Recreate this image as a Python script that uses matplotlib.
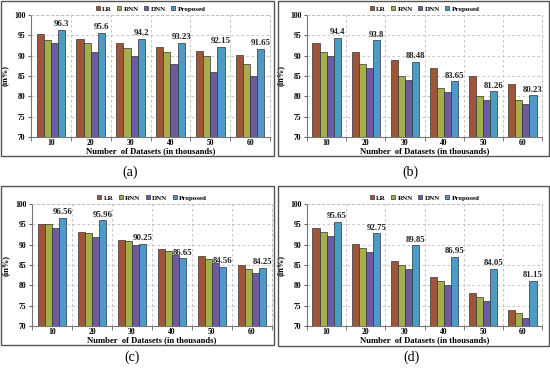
import matplotlib
matplotlib.use("Agg")
import matplotlib.pyplot as plt
from matplotlib.patches import Rectangle
import numpy as np

categories = ["10", "20", "30", "40", "50", "60"]
series_names = ["LR", "RNN", "DNN", "Proposed"]

a_LR = [95.3, 94.1, 93.2, 92.1, 91.2, 90.2]
a_RNN = [93.9, 93.0, 92.0, 91.0, 90.0, 88.0]
a_DNN = [93.0, 91.0, 90.0, 88.0, 86.0, 85.0]
a_Prop = [96.3, 95.6, 94.2, 93.23, 92.15, 91.65]

b_LR = [93.1, 91.0, 89.0, 87.0, 85.0, 83.0]
b_RNN = [91.0, 88.0, 85.0, 82.0, 80.0, 79.0]
b_DNN = [90.0, 87.0, 84.0, 81.0, 79.0, 78.0]
b_Prop = [94.4, 93.8, 88.48, 83.65, 81.26, 80.23]

c_LR = [95.2, 93.05, 91.2, 89.0, 87.2, 85.1]
c_RNN = [95.0, 92.9, 90.8, 88.5, 86.4, 84.1]
c_DNN = [94.0, 91.9, 89.8, 87.5, 85.4, 83.1]
c_Prop = [96.56, 95.96, 90.25, 86.65, 84.56, 84.25]

d_LR = [94.05, 90.05, 86.1, 82.0, 78.0, 74.0]
d_RNN = [93.1, 89.1, 85.1, 81.1, 77.1, 73.1]
d_DNN = [92.1, 88.1, 84.0, 80.0, 76.1, 72.0]
d_Prop = [95.65, 92.75, 89.85, 86.95, 84.05, 81.15]

yticks = [70, 75, 80, 85, 90, 95, 100]
panel_labels = ["(a)", "(b)", "(c)", "(d)"]

colors = ["#9E5638", "#A3AE4E", "#6A5C9E", "#4A9CC6"]

W, H = 550, 369
fig = plt.figure(figsize=(W / 100, H / 100), dpi=100)
fig.patch.set_facecolor("white")

serif = ["Liberation Serif", "DejaVu Serif"]

# pixel boxes: (left, top, right, bottom) of axes
axes_px = [
    (31, 15, 270, 137),
    (307, 15, 542, 137),
    (32, 204, 272, 326),
    (307, 204, 542, 326),
]
frames_px = [
    (1, 1, 274, 156),
    (278, 1, 549, 156),
    (1, 186, 274, 345),
    (278, 186, 549, 346),
]
label_px = [(130, 172), (410, 172), (132, 357), (412, 357)]

data = [
    (a_LR, a_RNN, a_DNN, a_Prop),
    (b_LR, b_RNN, b_DNN, b_Prop),
    (c_LR, c_RNN, c_DNN, c_Prop),
    (d_LR, d_RNN, d_DNN, d_Prop),
]

for i in range(4):
    l, t, r, b = frames_px[i]
    fig.patches.append(Rectangle((l / W, 1 - b / H), (r - l) / W, (b - t) / H,
                                 transform=fig.transFigure, fill=False,
                                 edgecolor="#555555", linewidth=1.0))
    l, t, r, b = axes_px[i]
    ax = fig.add_axes([l / W, 1 - b / H, (r - l) / W, (b - t) / H])
    x = np.arange(len(categories))
    w = 0.18
    for k, vals in enumerate(data[i]):
        ax.bar(x + (k - 1.5) * w, vals, width=w, color=colors[k],
               edgecolor="#333333", linewidth=0.5, label=series_names[k],
               zorder=3)
    prop = data[i][3]
    for xi, v in zip(x, prop):
        ax.text(xi + 1.5 * w, v + 0.4, f"{v:g}", ha="center", va="bottom",
                fontsize=6.3, family=serif, fontweight="bold", color="#222222")
    ax.set_ylim(70, 100)
    ax.set_xlim(-0.5, len(categories) - 0.5)
    ax.set_yticks(yticks)
    ax.set_yticklabels([str(v) for v in yticks], family=serif, fontsize=5.5,
                       fontweight="bold")
    ax.set_xticks(x)
    ax.set_xticklabels(categories, family=serif, fontsize=5.5, fontweight="bold")
    ax.set_xticks(np.arange(len(categories) + 1) - 0.5, minor=True)
    ax.tick_params(axis="x", which="major", length=0, pad=1.5)
    ax.tick_params(axis="x", which="minor", length=3, color="#666666")
    ax.tick_params(axis="y", length=2, pad=2, color="#666666")
    ax.grid(axis="y", linestyle=(0, (3, 3)), color="#bbbbbb", linewidth=0.6,
            zorder=0)
    ax.grid(axis="x", which="minor", linestyle=(0, (3, 3)), color="#bbbbbb",
            linewidth=0.6, zorder=0)
    for s in ["top", "right"]:
        ax.spines[s].set_color("#bbbbbb")
        ax.spines[s].set_linestyle((0, (3, 3)))
        ax.spines[s].set_linewidth(0.6)
    for s in ["left", "bottom"]:
        ax.spines[s].set_color("#777777")
        ax.spines[s].set_linewidth(0.8)
    ax.set_ylabel("(in%)", family=serif, fontsize=6, fontweight="bold",
                  labelpad=4)
    ax.set_xlabel("Number  of Datasets (in thousands)", family=serif,
                  fontsize=6.2, fontweight="bold", labelpad=0)
    ax.legend(loc="lower center", bbox_to_anchor=(0.5, 1.0), ncol=4,
              frameon=False,
              prop={"family": serif, "size": 5, "weight": "bold"},
              handlelength=0.6, handleheight=0.6, handletextpad=0.3,
              columnspacing=0.8, borderaxespad=0.1)
    lx, ly = label_px[i]
    fig.text(lx / W, 1 - ly / H, panel_labels[i], ha="center", va="center",
             family=serif, fontsize=10)

fig.savefig("out.png", dpi=100)
